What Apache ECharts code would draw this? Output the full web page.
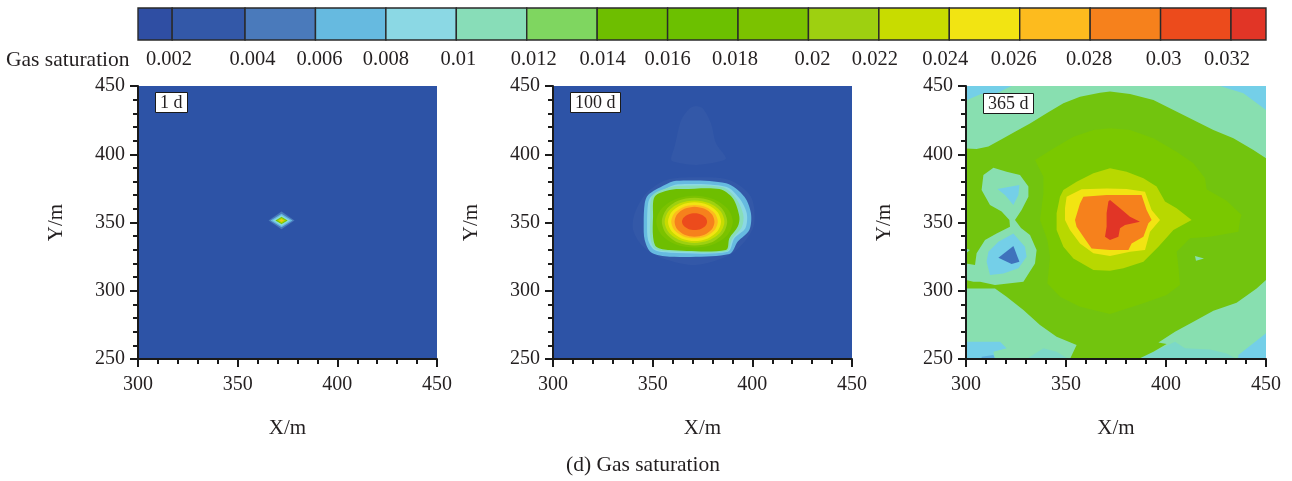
<!DOCTYPE html>
<html><head><meta charset="utf-8">
<style>html,body{margin:0;padding:0;background:#fff}#c{width:1292px;height:481px}</style>
<script src="https://cdn.jsdelivr.net/npm/echarts@6/dist/echarts.min.js"></script>
</head><body><div id="c"></div>
<script>
// ---- colour-bar data ----
const legendLabels = ['0.002','0.004','0.006','0.008','0.01','0.012','0.014','0.016','0.018','0.02','0.022','0.024','0.026','0.028','0.03','0.032'];
const legendEdges = [0.00096,0.00193,0.004,0.006,0.008,0.01,0.012,0.014,0.016,0.018,0.02,0.022,0.024,0.026,0.028,0.03,0.032,0.032994];
const levelColors = ['#2F4EA3','#3358A8','#4A7ABB','#66BAE0','#8BD8E4','#88DDB8','#7FD660','#6EBE00','#6CC000','#7BC200','#9ED010','#C8DC00','#F2E412','#FDBB1E','#F6811C','#EC4B1C','#E13526'];
// ---- gas-saturation contour outlines: [X/m, Y/m] ----
const plotExtent = [[300,250],[450,250],[450,450],[300,450]];
// 1 d
const d1Halo  = [[378.5,351.5],[372,358],[365.5,351.5],[372,345]];
const d1Blue  = [[377.5,351.5],[372,356.5],[366.5,351.5],[372,346.5]];
const d1Cyan  = [[376.3,351.5],[372,355.3],[367.7,351.5],[372,347.7]];
const d1Mint  = [[375.5,351.5],[372,354.6],[368.5,351.5],[372,348.4]];
const d1Green = [[375,351.5],[372,354.1],[369,351.5],[372,348.9]];
const d1Lime  = [[374.2,351.5],[372,353.5],[369.8,351.5],[372,349.5]];
const d1Yellow= [[373.2,351.5],[372,352.6],[370.8,351.5],[372,350.4]];
// 100 d
const d100Bell  = [[359.3,395.8],[361,405.6],[364.3,425.1],[368.5,433.6],[371.8,435.4],[375.2,433.6],[379.3,422.6],[381.8,408],[386.8,397],[383.5,394.6],[371.8,392.1],[362.7,393.8]];
const d100Halo  = [[341,356.7],[346.8,371.4],[356.8,381.1],[371.8,383.1],[388.5,381.1],[399.3,368.9],[401,349.4],[396.8,337.2],[388.5,326.2],[371.8,318.9],[355.2,323.7],[345.2,332.3],[340.2,344.5]];
const d100Blue  = [[346,364],[347.7,370.2],[356,377.5],[361.8,380.6],[386.8,378.7],[396,368.9],[399.3,356.7],[398.5,344.5],[392.7,336],[388.5,326.9],[358.5,325],[349.3,328],[346,337.2],[345.5,349.4]];
const d100Cyan  = [[347.7,364],[349.3,369],[356.8,375],[362.7,378],[386.8,376.2],[393.5,367.7],[397.2,356.7],[396.5,345.7],[391,338.4],[387.7,328.6],[358.5,327.9],[351,329.8],[347.7,337.2],[347.2,349.4]];
const d100Mint  = [[349.7,369.4],[357.7,375.5],[364.3,377],[385.2,375.8],[391.8,367.7],[395.5,355.5],[394.7,346.5],[389.8,337.7],[387.2,328.9],[358.5,328.9],[351,331],[348.8,339.1],[348.8,353]];
const d100Green = [[351,368.9],[358.5,373.8],[365.2,374.5],[383.5,374.5],[390.2,367.7],[393.5,354.3],[392.7,347],[388.5,338.4],[386.8,329.9],[358.5,329.9],[351.8,332.3],[350.2,339.6],[350.2,354.3]];
const d100Lime  = [[390.2,350.6],[387.6,360],[380.6,367],[371,369.6],[361.4,367],[354.4,360],[351.8,350.6],[354.4,341],[361.4,334],[371,331.6],[380.6,334],[387.6,341]];
const d100Olive = [[387.4,350.6],[385.2,359.4],[379.3,365.9],[371,368.1],[362.7,365.9],[356.8,359.4],[354.6,350.6],[356.8,341.8],[362.7,335.3],[371,333.1],[379.3,335.3],[385.2,341.8]];
const d100Chart = [[386,350.6],[384,358.4],[378.5,364.1],[371,366.2],[363.5,364.1],[358,358.4],[356,350.6],[358,342.8],[363.5,337.1],[371,335],[378.5,337.1],[384,342.8]];
const d100Yellow= [[384.3,350.6],[382.5,357.7],[377.7,362.9],[371,364.8],[364.4,362.9],[359.5,357.7],[357.7,350.6],[359.5,343.5],[364.4,338.3],[371,336.4],[377.7,338.3],[382.5,343.5]];
const d100Gold  = [[382.7,350.6],[381.1,356.7],[376.9,361.2],[371,362.8],[365.2,361.2],[360.9,356.7],[359.3,350.6],[360.9,344.5],[365.2,340],[371,338.4],[376.9,340],[381.1,344.5]];
const d100Orange= [[381,350.6],[379.7,356],[376,360],[371,361.6],[366,360],[362.3,356],[361,350.6],[362.3,345],[366,341],[371,339.6],[376,341],[379.7,345]];
const d100Red   = [[377.3,350.6],[376.5,353.6],[374.2,355.9],[371,356.7],[367.9,355.9],[365.6,353.6],[364.7,350.6],[365.6,347.6],[367.9,345.3],[371,344.5],[374.2,345.3],[376.5,347.6]];
// 365 d
const d365TL = [[300,450],[322.8,450],[315.3,444.6],[307.5,444.1],[300,439.3]];
const d365TR = [[427,450],[450,450],[450,432.4],[438.7,444.6]];
const d365BR = [[450,268.8],[436.2,252.9],[436,250],[450,250]];
const d365BM = [[386.2,250],[404.5,262.7],[409.5,257.8],[422,257],[430.3,254],[435.3,250]];
const d365BL = [[300,262.7],[317,262.7],[320.3,257.8],[313.7,255.3],[314.5,250],[300,250]];
const d365BL2 = [[338.7,257.8],[345.3,255.3],[351.2,250],[330.3,250]];
const d365BL3 = [[307.8,251.7],[313.7,252.9],[314.5,250],[307.8,250]];
const d365Green = [[300,404.3],[305.3,403.8],[311.2,405.6],[317.8,411],[324.5,416.5],[332,422.6],[340.3,430],[348.7,437.3],[357,442.2],[367,445.1],[372,445.9],[382,444.1],[393.7,439.7],[403.7,432.4],[413.7,425.1],[423.7,417.8],[433.7,411.7],[443.7,403.1],[450,397],[450,307.8],[445.3,301.7],[435.3,291.2],[423.7,285.4],[413.7,277.3],[404.5,270],[396.2,262],[400.3,261],[393.7,255.3],[386.2,250],[352,250],[355.3,260.2],[345.3,266.3],[337,274.9],[328.7,285.9],[320.3,295.6],[314.5,301.7],[300,301.7]];
const d365Lime = [[334.5,395.8],[343.7,404.3],[353.7,412.9],[363.7,417.8],[372,419],[382,417.8],[393.7,411.7],[405.3,401.9],[413.7,393.4],[419.5,382.4],[420.3,374.4],[430.3,366],[437.8,355.5],[437,351.8],[436.2,343.3],[422,339.6],[412,338.4],[405.3,328.6],[406.2,317.6],[407,304.2],[400.3,296.9],[388.7,290.8],[372,283],[357,288.3],[347,295.6],[340.7,305.4],[342,325],[340.7,337.1],[337,351.8],[338.7,371.4],[338.7,383.6]];
const d365Olive = [[348.7,373.8],[355.3,379.9],[363.7,386],[372,389.7],[380.3,387.2],[388.7,382.4],[395.3,376.3],[399.5,365.3],[405.3,360.4],[412.8,351.8],[403.7,344.5],[396.2,332.3],[388.7,321.3],[378.7,316.4],[372,314.7],[363.7,315.2],[353.7,323.7],[348.7,332.3],[345.3,344.5],[345.3,356.7],[347,368.9]];
const d365Yellow = [[349.5,360.4],[350.3,368.9],[357.8,374.3],[370.3,375],[380.3,374.5],[389.5,372.6],[392.8,359.2],[397,351.8],[392,343.3],[389.5,329.8],[382,328.6],[372,325.4],[363.7,327.4],[357,334.7],[352,344.5],[349.5,351.8]];
const d365Orange = [[354.5,351.8],[357,364],[358.7,368.9],[370.3,370.2],[387.8,370.2],[390.3,359.2],[392.8,351.8],[391.2,349.4],[388.7,339.6],[382.8,334.7],[381.2,329.8],[372,329.8],[362.8,331],[358.7,339.6],[355.3,346.9]];
const d365Red = [[370.3,356.7],[371.2,365.3],[372,366.5],[377,360.4],[382,354.3],[387,350.6],[379.5,348.1],[377,345.7],[376.2,339.6],[372,337.1],[369.5,339.6],[370.3,346.9],[370.3,351.8]];
const d365Hole = [[313.7,390.2],[320.3,387.2],[327,384.8],[331.2,376.3],[331.2,368.9],[327.8,359.2],[324.5,351.8],[327.5,346],[332,340.8],[335.3,329.8],[334.5,320],[328.7,306.6],[314.5,304.2],[307,306.6],[303.7,306.6],[300,307.8],[300,320],[304.5,318.8],[305.3,327.4],[309.5,337.1],[315.3,342],[322,346.9],[321.7,351.8],[317.8,358],[312,362.8],[307.8,373.8],[308.7,384.8]];
const d365HoleL = [[300,331],[302,329.8],[300,327.4]];
const d365HoleR = [[414.5,325.4],[419,323.7],[415,322]];
const d365BlueUp = [[315.7,374.5],[326.7,377.5],[326.2,370.2],[323.7,362.8],[319.5,370.2]];
const d365BlueLow = [[323.7,342],[329.5,332.3],[330.3,325],[326.2,316.4],[318.7,312.7],[312,311.5],[310.3,321.3],[311.2,328.6],[316.2,335.9]];
const d365Deep = [[323.7,332.8],[326.7,321.3],[322.8,319.6],[316.2,324.2]];
// ---- panel layering: outline + colour, painted bottom to top ----
const baseBlue='#2D53A6', sky='#74CFE8', mint='#88DFB0', grass='#72C40E', lime='#7AC800', olive='#B8D800';
const panels = [
 {name:'1 d', left:138, width:299, smooth:0, bands:[[plotExtent,baseBlue],[d1Halo,'#4A7ABB'],[d1Blue,levelColors[3]],[d1Cyan,levelColors[4]],[d1Mint,levelColors[5]],[d1Green,levelColors[7]],[d1Lime,'#B0D400'],[d1Yellow,'#F0C810']]},
 {name:'100 d', left:553, width:299, smooth:0.3, bands:[[plotExtent,baseBlue],[d100Bell,'#3358A8'],[d100Halo,'#3358A8'],[d100Blue,levelColors[3]],[d100Cyan,levelColors[4]],[d100Mint,levelColors[5]],[d100Green,levelColors[7]],[d100Lime,levelColors[9]],[d100Olive,levelColors[10]],[d100Chart,levelColors[11]],[d100Yellow,levelColors[12]],[d100Gold,levelColors[13]],[d100Orange,levelColors[14]],[d100Red,levelColors[15]]]},
 {name:'365 d', left:966, width:300, smooth:0, bands:[[plotExtent,mint],[d365TL,sky],[d365TR,sky],[d365BR,sky],[d365BM,'#7CD8C8'],[d365BL,sky],[d365BL2,'#7CD8C8'],[d365BL3,'#5EB0E0'],[d365Green,grass],[d365Lime,lime],[d365Olive,olive],[d365Yellow,levelColors[12]],[d365Orange,levelColors[14]],[d365Red,levelColors[16]],[d365Hole,mint],[d365HoleL,mint],[d365HoleR,mint],[d365BlueUp,sky],[d365BlueLow,sky],[d365Deep,'#3F72BC']]}
];
// ---- presentation ----
const serif='"Liberation Serif", serif', ink='#231f20';
const labelNudgePx=[-5.6,7.5,4,0,2,7,5.5,0,-3,4,-4,-4,-6,-1,3,-4];
const tagBoxes=[[155,92],[570,92],[983,93]];
const grids=[],xAxes=[],yAxes=[],series=[],titles=[];
const axisBase={type:'value',z:5,splitLine:{show:false},minorSplitLine:{show:false},
  axisLine:{show:true,onZero:false,lineStyle:{color:'#1a1a1a',width:2}},
  axisTick:{show:true,inside:false,length:8,lineStyle:{color:'#1a1a1a',width:2}},
  minorTick:{show:true,splitNumber:5,length:5,lineStyle:{color:'#1a1a1a',width:2}},
  nameTextStyle:{color:ink,fontFamily:serif,fontSize:21},nameLocation:'middle'};
panels.forEach((p,i)=>{
  grids.push({left:p.left,top:86,width:p.width,height:273,containLabel:false});
  xAxes.push(Object.assign({},axisBase,{gridIndex:i,min:300,max:450,interval:50,name:'X/m',nameGap:59,
    axisLabel:{color:ink,fontFamily:serif,fontSize:20,margin:16,showMinLabel:true,showMaxLabel:true,hideOverlap:false}}));
  yAxes.push(Object.assign({},axisBase,{gridIndex:i,min:250,max:450,interval:50,name:'Y/m',nameGap:71,nameRotate:90,
    axisLabel:{color:ink,fontFamily:serif,fontSize:20,margin:13,showMinLabel:true,showMaxLabel:true,hideOverlap:false}}));
  series.push({type:'custom',xAxisIndex:i,yAxisIndex:i,clip:true,z:2,silent:true,
    data:p.bands.map((b,k)=>[k]),
    renderItem:(params,api)=>{
      const b=p.bands[api.value(0)];
      return {type:'polygon',shape:{points:b[0].map(pt=>api.coord(pt)),smooth:b[0]===plotExtent?0:p.smooth},style:{fill:b[1]}};
    }});
  titles.push({text:p.name,left:tagBoxes[i][0],top:tagBoxes[i][1],backgroundColor:'#fff',borderColor:'#1a1a1a',borderWidth:1,padding:[2,5,1,5],z:8,
    textStyle:{color:ink,fontFamily:serif,fontSize:18,fontWeight:'normal'}});
});
// colour bar
const li=panels.length;
grids.push({left:138,top:8,width:1128,height:32});
xAxes.push({type:'value',gridIndex:li,min:legendEdges[0],max:legendEdges[legendEdges.length-1],show:false,splitLine:{show:false}});
yAxes.push({type:'value',gridIndex:li,min:0,max:1,show:false,splitLine:{show:false}});
series.push({type:'custom',xAxisIndex:li,yAxisIndex:li,clip:false,silent:true,
  data:levelColors.map((c,k)=>[legendEdges[k],legendEdges[k+1]]),
  renderItem:(params,api)=>{
    const a=api.coord([api.value(0),1]),b=api.coord([api.value(1),0]);
    return {type:'rect',shape:{x:a[0],y:a[1],width:b[0]-a[0],height:b[1]-a[1]},
      style:{fill:levelColors[params.dataIndex],stroke:'#2a2a2a',lineWidth:1.4}};
  }});
series.push({type:'custom',xAxisIndex:li,yAxisIndex:li,clip:false,silent:true,
  data:legendLabels.map(t=>[parseFloat(t)]),
  renderItem:(params,api)=>{
    const c=api.coord([api.value(0),0]);
    return {type:'text',style:{text:legendLabels[params.dataIndex],x:c[0]+labelNudgePx[params.dataIndex],y:c[1]+20,
      align:'center',verticalAlign:'middle',fill:ink,fontFamily:serif,fontSize:20.5}};
  }});
titles.push({text:'Gas saturation',left:6,top:49,padding:0,textStyle:{color:ink,fontFamily:serif,fontSize:21.5,fontWeight:'normal'}});
titles.push({text:'(d) Gas saturation',left:566,top:454,padding:0,textStyle:{color:ink,fontFamily:serif,fontSize:21.5,fontWeight:'normal'}});
const chart=echarts.init(document.getElementById('c'),null,{renderer:'canvas'});
chart.setOption({animation:false,backgroundColor:'#fff',title:titles,grid:grids,xAxis:xAxes,yAxis:yAxes,series:series});
</script></body></html>
